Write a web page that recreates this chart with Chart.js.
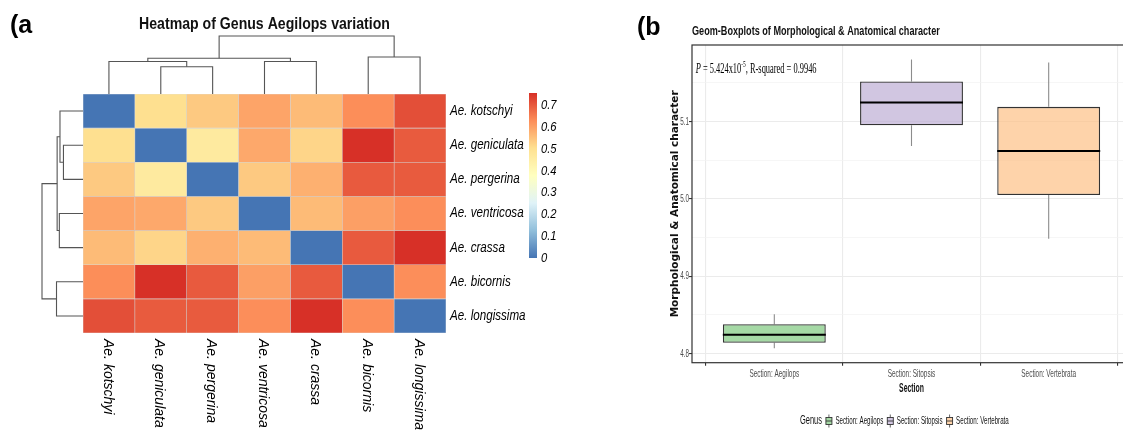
<!DOCTYPE html>
<html>
<head>
<meta charset="utf-8">
<title>Aegilops heatmap and boxplots</title>
<script src="https://cdn.jsdelivr.net/npm/chart.js@4.4.1/dist/chart.umd.min.js"></script>
<style>
  html, body { margin: 0; padding: 0; background: #fff; }
  body { width: 1123px; height: 432px; overflow: hidden; position: relative; }
  canvas { position: absolute; }
</style>
</head>
<body>
<canvas id="heat" width="630" height="432" style="left:0;top:0"></canvas>
<canvas id="colTree" width="367" height="62" style="left:81px;top:34px"></canvas>
<canvas id="rowTree" width="45" height="244" style="left:40px;top:92px"></canvas>
<canvas id="colorKey" width="70" height="190" style="left:520px;top:85px"></canvas>
<canvas id="box" width="510" height="432" style="left:630px;top:0"></canvas>
<script>
// ---- panel (a) data: species in dendrogram order ----
const species = ["Ae. kotschyi", "Ae. geniculata", "Ae. pergerina", "Ae. ventricosa", "Ae. crassa", "Ae. bicornis", "Ae. longissima"];
const dist = [
  [0.000, 0.505, 0.540, 0.596, 0.561, 0.630, 0.715],
  [0.505, 0.000, 0.465, 0.590, 0.521, 0.757, 0.698],
  [0.540, 0.465, 0.000, 0.540, 0.578, 0.700, 0.698],
  [0.596, 0.590, 0.540, 0.000, 0.561, 0.603, 0.629],
  [0.561, 0.521, 0.578, 0.561, 0.000, 0.700, 0.757],
  [0.630, 0.757, 0.700, 0.603, 0.700, 0.000, 0.629],
  [0.715, 0.698, 0.698, 0.629, 0.757, 0.629, 0.000]
];
// hclust style merges (negative = leaf position, positive = earlier merge)
const treeMerges = [[-2, -3], [-1, 1], [-4, -5], [2, 3], [-6, -7], [4, 5]];
const colHeights = [0.61, 0.73, 0.73, 0.80, 0.83, 1.30];
const rowHeights = [0.62, 0.73, 0.75, 0.82, 0.84, 1.30];
const keyTicks = [0, 0.1, 0.2, 0.3, 0.4, 0.5, 0.6, 0.7];

// ---- panel (b) data ----
const sections = ["Section: Aegilops", "Section: Sitopsis", "Section: Vertebrata"];
const whiskerLow = [4.807, 5.0685, 4.9485];
const q1 = [4.8142, 5.0952, 5.0051];
const median = [4.8246, 5.1246, 5.062];
const q3 = [4.838, 5.1518, 5.119];
const whiskerHigh = [4.851, 5.1803, 5.1764];

const palette = ["#4575B4", "#91BFDB", "#E0F3F8", "#FFFFBF", "#FEE090", "#FC8D59", "#D73027"];
const boxColors = ["#7FC97F", "#BEAED4", "#FDC086"];
const SANS = '"Liberation Sans", Arial, sans-serif';
const SERIF = '"Liberation Serif", "Times New Roman", serif';

const vmax = Math.max(...dist.flat());

function hexRgb(h) {
  return [1, 3, 5].map(i => parseInt(h.slice(i, i + 2), 16));
}
function rgba(h, a) {
  const c = hexRgb(h);
  return `rgba(${c[0]},${c[1]},${c[2]},${a})`;
}
function heatColor(v) {
  const t = Math.min(1, v / vmax) * (palette.length - 1);
  const i = Math.min(palette.length - 2, Math.floor(t));
  const f = t - i;
  const a = hexRgb(palette[i]), b = hexRgb(palette[i + 1]);
  return `rgb(${a.map((c, k) => Math.round(c + (b[k] - c) * f)).join(",")})`;
}

// text with horizontal squeeze (the original figure text is condensed)
function drawText(ctx, str, x, y, font, color, sx, align, rot) {
  ctx.save();
  ctx.font = font;
  const w = ctx.measureText(str).width * sx;
  ctx.translate(x, y);
  if (rot) ctx.rotate(rot);
  ctx.scale(sx, 1);
  ctx.fillStyle = color;
  ctx.textAlign = align || "left";
  ctx.textBaseline = "middle";
  ctx.fillText(str, 0, 0);
  ctx.restore();
  return w;
}

// U shaped links of a dendrogram, in (position, height) pairs
function treeLinks(merges, heights) {
  const pos = [], ht = [], links = [];
  merges.forEach(([a, b], k) => {
    const pa = a < 0 ? -a - 1 : pos[a - 1], ha = a < 0 ? 0 : ht[a - 1];
    const pb = b < 0 ? -b - 1 : pos[b - 1], hb = b < 0 ? 0 : ht[b - 1];
    links.push([[pa, ha], [pa, heights[k]], [pb, heights[k]], [pb, hb]]);
    pos.push((pa + pb) / 2);
    ht.push(heights[k]);
  });
  return links;
}

const base = {
  responsive: false,
  animation: false,
  devicePixelRatio: 1,
  events: []
};
const quiet = { legend: { display: false }, tooltip: { enabled: false } };

// ---------- heatmap ----------
const heatLabels = {
  id: "heatLabels",
  afterDraw(chart) {
    const { ctx, chartArea: a, scales: { x, y } } = chart;
    drawText(ctx, "(a", 10, 26, "bold 25px " + SANS, "#000", 1);
    drawText(ctx, "Heatmap of Genus Aegilops variation", (a.left + a.right) / 2, 24,
      "bold 17px " + SANS, "#111", 0.83, "center");
    species.forEach((name, i) => {
      drawText(ctx, name, a.right + 4, y.getPixelForValue(i + 0.5), "italic 14px " + SANS, "#000", 0.83);
      drawText(ctx, name, x.getPixelForValue(i) - 1.5, a.bottom + 6, "italic 14px " + SANS, "#000", 1, "left", Math.PI / 2);
    });
  }
};

new Chart(document.getElementById("heat"), {
  type: "bar",
  data: {
    labels: species,
    datasets: species.map((name, r) => ({
      label: name,
      data: species.map(() => 1),
      backgroundColor: dist[r].map(heatColor),
      borderColor: "rgba(150,150,150,0.3)",
      borderWidth: 0.6,
      borderSkipped: false,
      barPercentage: 1,
      categoryPercentage: 1
    }))
  },
  options: {
    ...base,
    layout: { autoPadding: false, padding: { left: 83, top: 94, right: 184, bottom: 99 } },
    plugins: quiet,
    scales: {
      x: { display: false, stacked: true },
      y: { display: false, stacked: true, reverse: true, min: 0, max: species.length }
    }
  },
  plugins: [heatLabels]
});

// ---------- dendrograms ----------
const treeLine = { showLine: true, borderColor: "#555", borderWidth: 1.1, pointRadius: 0, clip: false };

new Chart(document.getElementById("colTree"), {
  type: "scatter",
  data: {
    datasets: treeLinks(treeMerges, colHeights).map(l => ({
      ...treeLine, data: l.map(([p, h]) => ({ x: p, y: h }))
    }))
  },
  options: {
    ...base,
    layout: { autoPadding: false, padding: { left: 2, right: 2, top: 2, bottom: 2 } },
    plugins: quiet,
    scales: {
      x: { type: "linear", display: false, min: -0.5, max: species.length - 0.5 },
      y: { display: false, min: 0, max: Math.max(...colHeights) }
    }
  }
});

new Chart(document.getElementById("rowTree"), {
  type: "scatter",
  data: {
    datasets: treeLinks(treeMerges, rowHeights).map(l => ({
      ...treeLine, data: l.map(([p, h]) => ({ x: h, y: p }))
    }))
  },
  options: {
    ...base,
    layout: { autoPadding: false, padding: { left: 2, right: 2, top: 2, bottom: 3 } },
    plugins: quiet,
    scales: {
      x: { type: "linear", display: false, reverse: true, min: 0, max: Math.max(...rowHeights) },
      y: { display: false, reverse: true, min: -0.5, max: species.length - 0.5 }
    }
  }
});

// ---------- colour key ----------
const keyLabels = {
  id: "keyLabels",
  afterDraw(chart) {
    const { ctx, chartArea: a, scales: { y } } = chart;
    keyTicks.forEach(v => drawText(ctx, String(v), a.right + 4, y.getPixelForValue(v),
      "italic 13.5px " + SANS, "#000", 0.83));
  }
};

new Chart(document.getElementById("colorKey"), {
  type: "bar",
  data: {
    labels: ["key"],
    datasets: [{
      data: [[0, vmax]],
      backgroundColor(c) {
        const ch = c.chart;
        if (!ch.chartArea) return palette[0];
        const y = ch.scales.y;
        const g = ch.ctx.createLinearGradient(0, y.getPixelForValue(0), 0, y.getPixelForValue(vmax));
        palette.forEach((col, i) => g.addColorStop(i / (palette.length - 1), col));
        return g;
      },
      borderWidth: 0,
      barPercentage: 1,
      categoryPercentage: 1
    }]
  },
  options: {
    ...base,
    layout: { autoPadding: false, padding: { left: 9, right: 53, top: 8, bottom: 17 } },
    plugins: quiet,
    scales: {
      x: { display: false },
      y: { display: false, min: 0, max: vmax }
    }
  },
  plugins: [keyLabels]
});

// ---------- boxplots ----------
const lo = Math.min(...whiskerLow), hi = Math.max(...whiskerHigh);
const pad = (hi - lo) * 0.05;
const isMajor = v => Math.abs(v * 10 - Math.round(v * 10)) < 1e-6;

const boxText = {
  id: "boxText",
  afterDraw(chart) {
    const { ctx, chartArea: a, scales: { x, y } } = chart;
    ctx.save();
    ctx.strokeStyle = "#333";
    ctx.lineWidth = 1.2;
    ctx.strokeRect(a.left, a.top, a.right - a.left, a.bottom - a.top);
    ctx.restore();

    drawText(ctx, "(b", 7, 28, "bold 25px " + SANS, "#000", 1);
    drawText(ctx, "Geom-Boxplots of Morphological & Anatomical character", a.left, 31,
      "bold 13px " + SANS, "#111", 0.70);
    drawText(ctx, "Morphological & Anatomical character", 45, (a.top + a.bottom) / 2,
      'bold 10.5px "DejaVu Sans", sans-serif', "#111", 1, "center", -Math.PI / 2);
    drawText(ctx, "Section", (a.left + a.right) / 2, a.bottom + 25.6, "bold 12.5px " + SANS, "#111", 0.55, "center");

    sections.forEach((s, i) => drawText(ctx, s, x.getPixelForValue(i + 1), a.bottom + 11.5,
      "11.5px " + SANS, "#4D4D4D", 0.56, "center"));
    y.ticks.filter(t => isMajor(t.value)).forEach(t => drawText(ctx, t.value.toFixed(1), a.left - 3,
      y.getPixelForValue(t.value), "11.5px " + SANS, "#4D4D4D", 0.55, "right"));

    // annotation inside the panel
    let ax = x.getPixelForValue(0.427);
    const ay = y.getPixelForValue(5.168);
    ax += drawText(ctx, "P", ax, ay, "italic 14px " + SERIF, "#000", 0.6);
    ax += drawText(ctx, " = 5.424x10", ax, ay, "14px " + SERIF, "#000", 0.6);
    ax += drawText(ctx, "-5", ax, ay - 4, "9px " + SERIF, "#000", 0.6);
    drawText(ctx, ", R-squared = 0.9946", ax, ay, "14px " + SERIF, "#000", 0.6);

    // legend
    const ly = 421;
    let lx = 170;
    lx += drawText(ctx, "Genus", lx, ly, "12px " + SANS, "#111", 0.62) + 4;
    sections.forEach((s, i) => {
      const cx = lx + 3;
      ctx.save();
      ctx.strokeStyle = "#555";
      ctx.lineWidth = 0.9;
      ctx.beginPath();
      ctx.moveTo(cx, ly - 6.5); ctx.lineTo(cx, ly + 6.5);
      ctx.stroke();
      ctx.fillStyle = "#fff";
      ctx.fillRect(lx, ly - 3.5, 6, 7);
      ctx.fillStyle = rgba(boxColors[i], 0.7);
      ctx.fillRect(lx, ly - 3.5, 6, 7);
      ctx.strokeStyle = "#333";
      ctx.strokeRect(lx, ly - 3.5, 6, 7);
      ctx.beginPath();
      ctx.moveTo(lx, ly); ctx.lineTo(lx + 6, ly);
      ctx.stroke();
      ctx.restore();
      lx += 6 + 3.5;
      lx += drawText(ctx, s, lx, ly, "10.5px " + SANS, "#111", 0.59) + 4;
    });
  }
};

new Chart(document.getElementById("box"), {
  type: "bar",
  data: {
    datasets: [
      {
        label: "lower whisker",
        data: sections.map((s, i) => ({ x: i + 1, y: [whiskerLow[i], q1[i]] })),
        backgroundColor: "#8c8c8c",
        barPercentage: 0.008, categoryPercentage: 1, grouped: false, order: 3
      },
      {
        label: "upper whisker",
        data: sections.map((s, i) => ({ x: i + 1, y: [q3[i], whiskerHigh[i]] })),
        backgroundColor: "#8c8c8c",
        barPercentage: 0.008, categoryPercentage: 1, grouped: false, order: 3
      },
      {
        label: "box",
        data: sections.map((s, i) => ({ x: i + 1, y: [q1[i], q3[i]] })),
        backgroundColor: boxColors.map(c => rgba(c, 0.7)),
        borderColor: "#333",
        borderWidth: 1.3,
        borderSkipped: false,
        barPercentage: 0.75, categoryPercentage: 1, grouped: false, order: 2
      },
      {
        type: "scatter",
        label: "median",
        data: sections.map((s, i) => ({ x: i + 1, y: median[i] })),
        pointStyle: "line",
        pointRadius: 51.5,
        pointBorderColor: "#000",
        pointBorderWidth: 2,
        clip: false,
        order: 1
      }
    ]
  },
  options: {
    ...base,
    layout: { autoPadding: false, padding: { left: 62, right: 9, top: 45, bottom: 69.3 } },
    plugins: quiet,
    scales: {
      x: {
        type: "linear", min: 0.4, max: sections.length + 0.6, offset: false,
        afterBuildTicks: s => { s.ticks = sections.map((_, i) => ({ value: i + 1 })); },
        afterFit: s => { s.height = 0; },
        ticks: { display: false },
        grid: { color: "#EBEBEB", lineWidth: 1.1, tickColor: "#333", tickLength: 3 },
        border: { display: false }
      },
      y: {
        min: lo - pad, max: hi + pad,
        afterFit: s => { s.width = 0; },
        ticks: { display: false, stepSize: 0.05, includeBounds: false },
        grid: {
          color: c => isMajor(c.tick.value) ? "#EBEBEB" : "#F2F2F2",
          lineWidth: c => isMajor(c.tick.value) ? 1.1 : 0.7,
          tickColor: c => isMajor(c.tick.value) ? "#333" : "rgba(0,0,0,0)",
          tickLength: 3
        },
        border: { display: false }
      }
    }
  },
  plugins: [boxText]
});
</script>
</body>
</html>
